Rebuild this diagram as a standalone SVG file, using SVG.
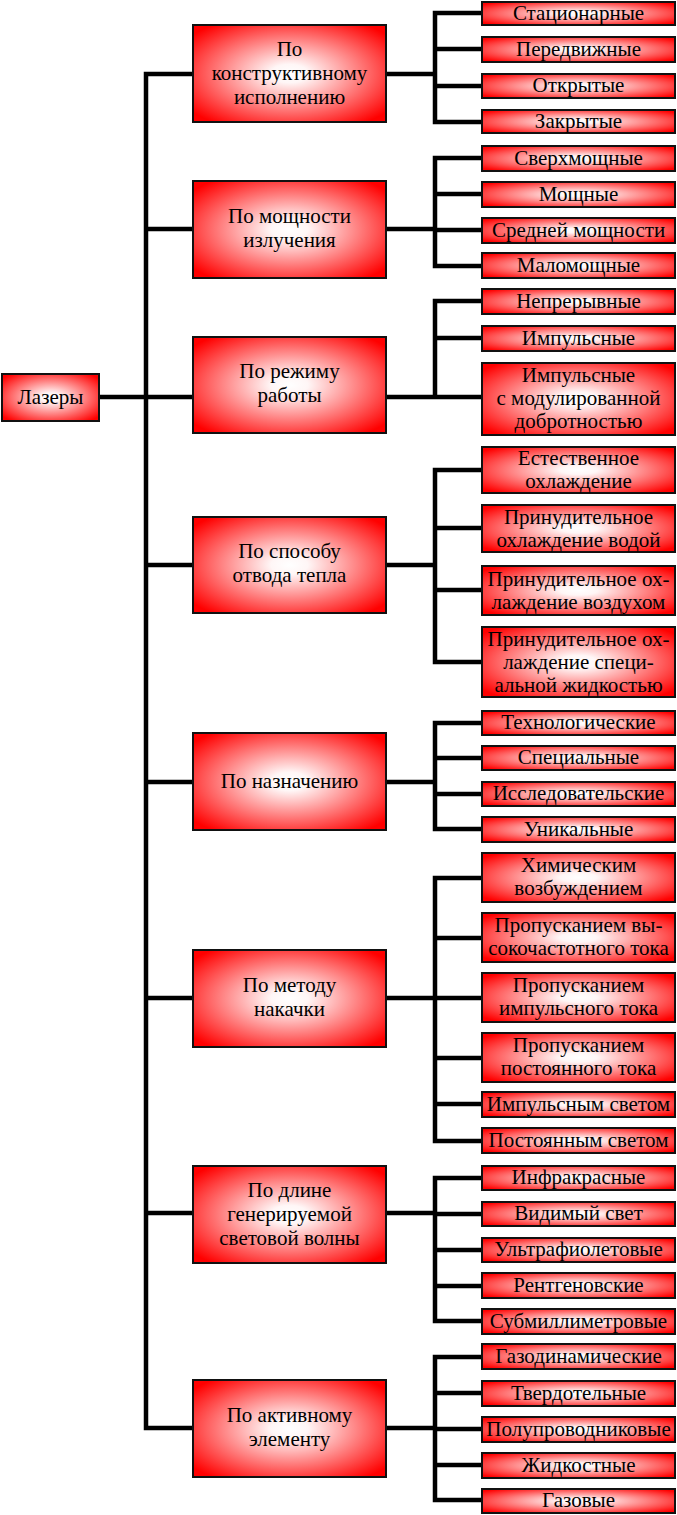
<svg xmlns="http://www.w3.org/2000/svg" width="677" height="1515" viewBox="0 0 677 1515">
<defs>
<radialGradient id="g" cx="0.5" cy="0.5" r="0.64">
<stop offset="0" stop-color="#ffffff"/>
<stop offset="0.15" stop-color="#fff6f6"/>
<stop offset="1" stop-color="#ff0000"/>
</radialGradient>
<style>
.n{fill:url(#g);stroke:#111;stroke-width:2}
.t{font-size:21px;fill:#000;text-anchor:middle}
.c{fill:none;stroke:#000;stroke-width:4.5;stroke-linejoin:miter;stroke-linecap:butt}
</style>
</defs>
<rect width="677" height="1515" fill="#fff"/>
<g id="connectors" class="c">
<path d="M99 397 H193"/>
<path d="M193 74 H146 V1428 H193"/>
<path d="M146 229 H193 M146 565 H193 M146 782 H193 M146 998 H193 M146 1213 H193"/>
<path d="M387 74 H435 M482 13 H435 V122 H482 M435 49 H482 M435 86 H482"/>
<path d="M387 229 H435 M482 158 H435 V266 H482 M435 194 H482 M435 230 H482"/>
<path d="M387 397 H482 M482 301 H435 V399 M435 338 H482"/>
<path d="M387 565 H435 M482 470 H435 V662 H482 M435 528 H482 M435 590 H482"/>
<path d="M387 782 H435 M482 723 H435 V829 H482 M435 758 H482 M435 794 H482"/>
<path d="M387 998 H435 M482 878 H435 V1141 H482 M435 938 H482 M435 998 H482 M435 1058 H482 M435 1104 H482"/>
<path d="M387 1213 H435 M482 1178 H435 V1321 H482 M435 1214 H482 M435 1250 H482 M435 1286 H482"/>
<path d="M387 1428 H435 M482 1357 H435 V1500 H482 M435 1393 H482 M435 1429 H482 M435 1465 H482"/>
</g>
<g font-family="'Liberation Serif', 'Times New Roman', serif">
<g id="root"><rect class="n" x="2" y="374" width="97" height="47"/><text class="t" x="50.5" y="404">Лазеры</text></g>
<g id="cat1"><rect class="n" x="193" y="25" width="193" height="97"/><text class="t" x="289.5"><tspan x="289.5" y="56">По</tspan><tspan x="289.5" y="80">конструктивному</tspan><tspan x="289.5" y="104">исполнению</tspan></text></g>
<g id="cat2"><rect class="n" x="193" y="181" width="193" height="97"/><text class="t" x="289.5"><tspan x="289.5" y="223">По мощности</tspan><tspan x="289.5" y="247">излучения</tspan></text></g>
<g id="cat3"><rect class="n" x="193" y="337" width="193" height="96"/><text class="t" x="289.5"><tspan x="289.5" y="378">По режиму</tspan><tspan x="289.5" y="402">работы</tspan></text></g>
<g id="cat4"><rect class="n" x="193" y="517" width="193" height="96"/><text class="t" x="289.5"><tspan x="289.5" y="558">По способу</tspan><tspan x="289.5" y="582">отвода тепла</tspan></text></g>
<g id="cat5"><rect class="n" x="193" y="733" width="193" height="97"/><text class="t" x="289.5" y="788">По назначению</text></g>
<g id="cat6"><rect class="n" x="193" y="950" width="193" height="97"/><text class="t" x="289.5"><tspan x="289.5" y="992">По методу</tspan><tspan x="289.5" y="1016">накачки</tspan></text></g>
<g id="cat7"><rect class="n" x="193" y="1166" width="193" height="97"/><text class="t" x="289.5"><tspan x="289.5" y="1197">По длине</tspan><tspan x="289.5" y="1221">генерируемой</tspan><tspan x="289.5" y="1245">световой волны</tspan></text></g>
<g id="cat8"><rect class="n" x="193" y="1380" width="193" height="97"/><text class="t" x="289.5"><tspan x="289.5" y="1422">По активному</tspan><tspan x="289.5" y="1446">элементу</tspan></text></g>
<g id="l1a"><rect class="n" x="482" y="2" width="193" height="23"/><text class="t" x="578.5" y="20">Стационарные</text></g>
<g id="l1b"><rect class="n" x="482" y="37" width="193" height="25"/><text class="t" x="578.5" y="56">Передвижные</text></g>
<g id="l1c"><rect class="n" x="482" y="74" width="193" height="24"/><text class="t" x="578.5" y="92">Открытые</text></g>
<g id="l1d"><rect class="n" x="482" y="110" width="193" height="23"/><text class="t" x="578.5" y="128">Закрытые</text></g>
<g id="l2a"><rect class="n" x="482" y="146" width="193" height="25"/><text class="t" x="578.5" y="165">Сверхмощные</text></g>
<g id="l2b"><rect class="n" x="482" y="182" width="193" height="25"/><text class="t" x="578.5" y="201">Мощные</text></g>
<g id="l2c"><rect class="n" x="482" y="218" width="193" height="25"/><text class="t" x="578.5" y="237">Средней мощности</text></g>
<g id="l2d"><rect class="n" x="482" y="253" width="193" height="25"/><text class="t" x="578.5" y="272">Маломощные</text></g>
<g id="l3a"><rect class="n" x="482" y="289" width="193" height="25"/><text class="t" x="578.5" y="308">Непрерывные</text></g>
<g id="l3b"><rect class="n" x="482" y="326" width="193" height="25"/><text class="t" x="578.5" y="345">Импульсные</text></g>
<g id="l3c"><rect class="n" x="482" y="363" width="193" height="72"/><text class="t" x="578.5"><tspan x="578.5" y="382">Импульсные</tspan><tspan x="578.5" y="405">с модулированной</tspan><tspan x="578.5" y="428">добротностью</tspan></text></g>
<g id="l4a"><rect class="n" x="482" y="447" width="193" height="46"/><text class="t" x="578.5"><tspan x="578.5" y="465">Естественное</tspan><tspan x="578.5" y="488">охлаждение</tspan></text></g>
<g id="l4b"><rect class="n" x="482" y="505" width="193" height="47"/><text class="t" x="578.5"><tspan x="578.5" y="524">Принудительное</tspan><tspan x="578.5" y="547">охлаждение водой</tspan></text></g>
<g id="l4c"><rect class="n" x="482" y="566" width="193" height="49"/><text class="t" x="578.5"><tspan x="578.5" y="586">Принудительное ох-</tspan><tspan x="578.5" y="609">лаждение воздухом</tspan></text></g>
<g id="l4d"><rect class="n" x="482" y="627" width="193" height="70"/><text class="t" x="578.5"><tspan x="578.5" y="646">Принудительное ох-</tspan><tspan x="578.5" y="669">лаждение специ-</tspan><tspan x="578.5" y="692">альной жидкостью</tspan></text></g>
<g id="l5a"><rect class="n" x="482" y="711" width="193" height="24"/><text class="t" x="578.5" y="729">Технологические</text></g>
<g id="l5b"><rect class="n" x="482" y="746" width="193" height="24"/><text class="t" x="578.5" y="764">Специальные</text></g>
<g id="l5c"><rect class="n" x="482" y="782" width="193" height="24"/><text class="t" x="578.5" y="800">Исследовательские</text></g>
<g id="l5d"><rect class="n" x="482" y="817" width="193" height="25"/><text class="t" x="578.5" y="836">Уникальные</text></g>
<g id="l6a"><rect class="n" x="482" y="853" width="193" height="49"/><text class="t" x="578.5"><tspan x="578.5" y="872">Химическим</tspan><tspan x="578.5" y="895">возбуждением</tspan></text></g>
<g id="l6b"><rect class="n" x="482" y="913" width="193" height="49"/><text class="t" x="578.5"><tspan x="578.5" y="932">Пропусканием вы-</tspan><tspan x="578.5" y="955">сокочастотного тока</tspan></text></g>
<g id="l6c"><rect class="n" x="482" y="973" width="193" height="49"/><text class="t" x="578.5"><tspan x="578.5" y="992">Пропусканием</tspan><tspan x="578.5" y="1015">импульсного тока</tspan></text></g>
<g id="l6d"><rect class="n" x="482" y="1033" width="193" height="49"/><text class="t" x="578.5"><tspan x="578.5" y="1052">Пропусканием</tspan><tspan x="578.5" y="1075">постоянного тока</tspan></text></g>
<g id="l6e"><rect class="n" x="482" y="1092" width="193" height="25"/><text class="t" x="578.5" y="1111">Импульсным светом</text></g>
<g id="l6f"><rect class="n" x="482" y="1128" width="193" height="25"/><text class="t" x="578.5" y="1147">Постоянным светом</text></g>
<g id="l7a"><rect class="n" x="482" y="1166" width="193" height="24"/><text class="t" x="578.5" y="1184">Инфракрасные</text></g>
<g id="l7b"><rect class="n" x="482" y="1202" width="193" height="24"/><text class="t" x="578.5" y="1220">Видимый свет</text></g>
<g id="l7c"><rect class="n" x="482" y="1238" width="193" height="24"/><text class="t" x="578.5" y="1256">Ультрафиолетовые</text></g>
<g id="l7d"><rect class="n" x="482" y="1273" width="193" height="25"/><text class="t" x="578.5" y="1292">Рентгеновские</text></g>
<g id="l7e"><rect class="n" x="482" y="1309" width="193" height="25"/><text class="t" x="578.5" y="1328">Субмиллиметровые</text></g>
<g id="l8a"><rect class="n" x="482" y="1344" width="193" height="25"/><text class="t" x="578.5" y="1363">Газодинамические</text></g>
<g id="l8b"><rect class="n" x="482" y="1381" width="193" height="25"/><text class="t" x="578.5" y="1400">Твердотельные</text></g>
<g id="l8c"><rect class="n" x="482" y="1417" width="193" height="25"/><text class="t" x="578.5" y="1436">Полупроводниковые</text></g>
<g id="l8d"><rect class="n" x="482" y="1453" width="193" height="25"/><text class="t" x="578.5" y="1472">Жидкостные</text></g>
<g id="l8e"><rect class="n" x="482" y="1489" width="193" height="24"/><text class="t" x="578.5" y="1507">Газовые</text></g>
</g>
</svg>
